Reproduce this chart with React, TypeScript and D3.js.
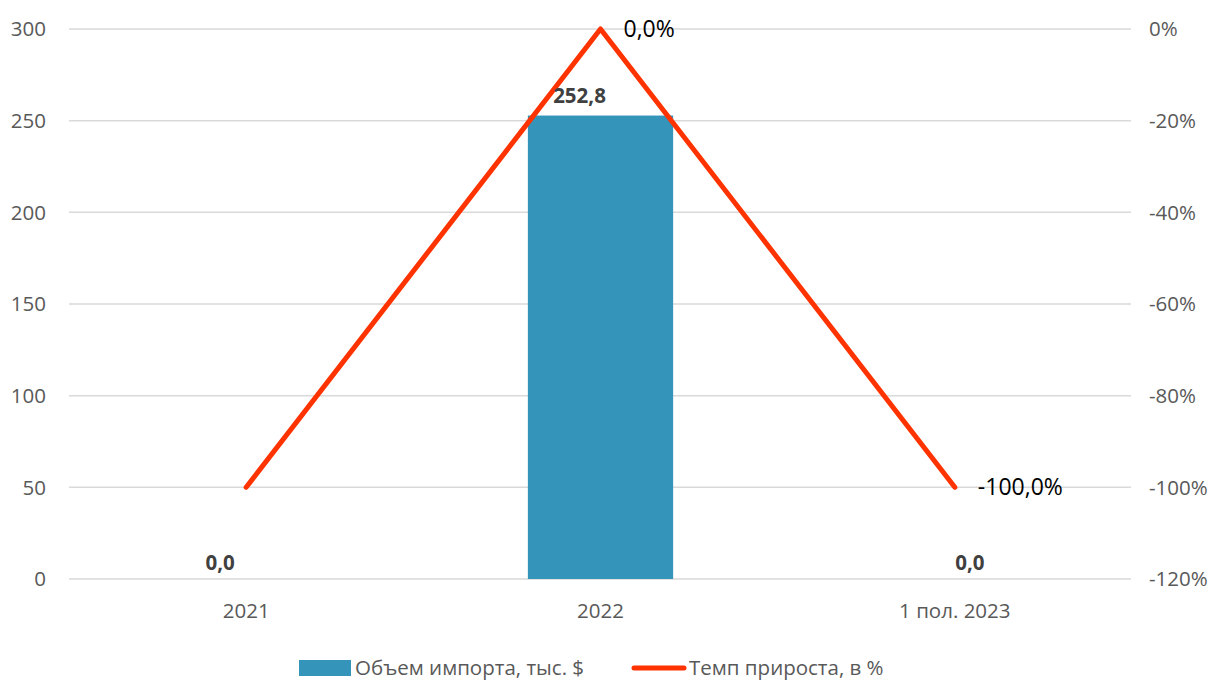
import React from "react";
import * as d3 from "d3";

const categories = ["2021", "2022", "1 пол. 2023"];
const importValues = [0, 252.8, 0];
const importLabels = ["0,0", "252,8", "0,0"];
const growthValues = [-100, 0, -100];
const growthLabels = [null, "0,0%", "-100,0%"];
const leftTicks = [0, 50, 100, 150, 200, 250, 300];
const rightTicks = [0, -20, -40, -60, -80, -100, -120];
const seriesNames = ["Объем импорта, тыс. $", "Темп прироста, в %"];

const W = 1216, H = 682;
const M = { left: 69, right: 1132, top: 29, bottom: 579 };
const FONT = "'Open Sans', 'Noto Sans', sans-serif";
const BAR = "#3494BA";
const LINE = "#FF3300";
const AX = 20.5;
const LEG_Y = 668;

export default function App() {
  const x = d3.scaleBand<string>().domain(categories).range([M.left, M.right]).paddingInner(0).paddingOuter(0);
  const yL = d3.scaleLinear().domain([0, 300]).range([M.bottom, M.top]);
  const yR = d3.scaleLinear().domain([-120, 0]).range([M.bottom, M.top]);
  const bw = x.bandwidth() * 0.41;
  const cx = (c: string) => (x(c) as number) + x.bandwidth() / 2;
  const line = d3.line<number>().x((_, i) => cx(categories[i])).y((d) => yR(d));
  const labelDx = [-26, -21, 15];
  const labelDy = [-9, -13, -9];

  return (
    <svg width={W} height={H} style={{ position: "absolute", left: 0, top: 0, background: "#fff" }}>
      {leftTicks.map((t) => (
        <g key={t}>
          <line x1={M.left} x2={M.right - 1} y1={yL(t)} y2={yL(t)} stroke="#d9d9d9" strokeWidth={1.5} />
          <text x={46} y={yL(t)} dy="0.35em" textAnchor="end" fontFamily={FONT} fontSize={AX} fill="#595959">{t}</text>
        </g>
      ))}
      {rightTicks.map((t) => (
        <text key={t} x={1149} y={yR(t)} dy="0.35em" textAnchor="start" fontFamily={FONT} fontSize={AX} fill="#595959">{t}%</text>
      ))}
      {categories.map((c, i) => (
        <rect key={c} x={cx(c) - bw / 2} y={yL(importValues[i])} width={bw} height={M.bottom - yL(importValues[i])} fill={BAR} />
      ))}
      <path d={line(growthValues) as string} fill="none" stroke={LINE} strokeWidth={5} strokeLinejoin="round" strokeLinecap="round" />
      {categories.map((c, i) => (
        <text key={c} x={cx(c) + labelDx[i]} y={yL(importValues[i]) + labelDy[i]} textAnchor="middle" fontFamily={FONT} fontSize={20.5} fontWeight={700} fill="#404040">{importLabels[i]}</text>
      ))}
      {categories.map((c, i) =>
        growthLabels[i] ? (
          <text key={c} x={cx(c) + 23} y={yR(growthValues[i])} dy="0.35em" textAnchor="start" fontFamily={FONT} fontSize={23} fill="#000">{growthLabels[i]}</text>
        ) : null
      )}
      {categories.map((c) => (
        <text key={c} x={cx(c)} y={611} dy="0.35em" textAnchor="middle" fontFamily={FONT} fontSize={AX} fill="#595959">{c}</text>
      ))}
      <rect x={299} y={LEG_Y - 8} width={52} height={16} fill={BAR} />
      <text x={355} y={LEG_Y} dy="0.35em" fontFamily={FONT} fontSize={AX} fill="#595959">{seriesNames[0]}</text>
      <line x1={634} x2={684} y1={LEG_Y} y2={LEG_Y} stroke={LINE} strokeWidth={5} strokeLinecap="round" />
      <text x={689} y={LEG_Y} dy="0.35em" fontFamily={FONT} fontSize={AX} fill="#595959">{seriesNames[1]}</text>
    </svg>
  );
}
